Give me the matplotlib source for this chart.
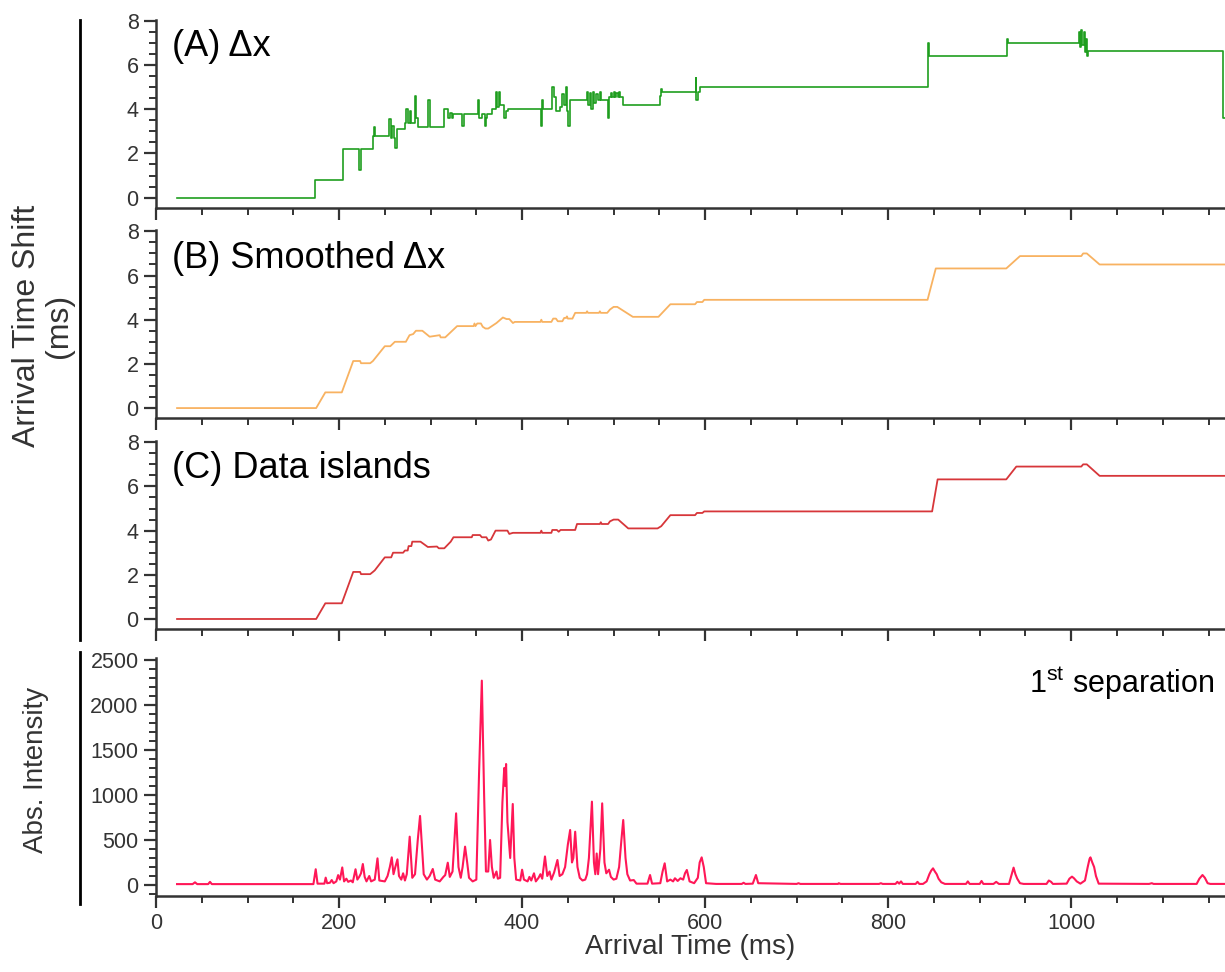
import matplotlib
matplotlib.use('Agg')
import matplotlib.pyplot as plt
from matplotlib.lines import Line2D
from matplotlib.ticker import MultipleLocator

plt.rcParams['font.family'] = ['Liberation Sans', 'DejaVu Sans']
plt.rcParams['mathtext.fontset'] = 'custom'
plt.rcParams['mathtext.rm'] = 'Liberation Sans'

GREEN = '#1f9e1f'
ORANGE = '#f8b261'
RED = '#d7363a'
PINK = '#ff1757'
AXC = '#333333'

# (A) raw shift, stepwise
dx_t = [23, 174, 204, 222, 224, 237, 238, 239.5, 255, 256.5, 258, 260, 261.5, 263,
        272, 273, 275, 278, 279, 283, 284.5, 286, 297.5, 299, 315, 319, 321, 323,
        325, 334.5, 336, 351.5, 353, 356, 359, 360.5, 362, 367, 371, 372.5, 374.5,
        376, 380, 382, 385, 421, 422, 423, 433, 434.5, 437, 441, 444, 445.5, 448,
        449, 450.5, 452, 471, 472, 474, 475.5, 478, 479, 481, 482.5, 485, 486,
        493.5, 495, 497, 498, 500, 501, 503, 504.5, 506, 507, 510.5, 551, 552, 553,
        589.5, 590.5, 592, 594, 843.5, 844.5, 929.5, 930.5, 1009, 1010, 1011, 1012,
        1013.5, 1014.5, 1016, 1017, 1018.5, 1166, 1168]
dx_v = [0.0, 0.8, 2.2, 1.25, 2.2, 2.8, 3.2, 2.8, 3.55, 2.7, 3.25, 2.7, 2.25, 3.1,
        3.4, 4.0, 3.4, 3.9, 3.4, 4.6, 3.6, 3.2, 4.4, 3.2, 4.0, 3.6, 3.85, 3.6,
        3.8, 3.25, 3.8, 4.4, 3.6, 3.8, 3.25, 3.6, 3.8, 4.0, 4.8, 4.1, 4.8,
        4.2, 3.6, 3.9, 4.0, 3.25, 4.4, 4.0, 5.0, 4.55, 3.9, 4.1, 4.7, 4.2, 5.0,
        3.9, 3.25, 4.4, 4.8, 4.2, 4.75, 4.0, 4.8, 4.3, 4.7, 4.4, 4.8, 4.4,
        3.6, 4.55, 4.75, 4.55, 4.8, 4.55, 4.75, 4.55, 4.8, 4.55, 4.2, 4.6, 4.9, 4.8,
        5.4, 4.4, 4.8, 5.0, 7.0, 6.42, 7.2, 7.0, 7.5, 6.8, 7.6, 6.9,
        7.5, 6.6, 7.2, 6.42, 6.62, 3.6, 3.6]

# (B) smoothed shift
sm_t = [23, 175, 185, 203, 215.5, 223, 224, 234, 237, 250, 256, 261, 273, 277, 281,
        284, 291, 299, 310, 311, 316, 329, 347, 348, 349, 351, 355, 357, 360, 363,
        372, 379, 383, 386, 390, 392, 420, 421, 422, 432, 434, 437, 439, 444, 446,
        448, 449, 450, 455, 458, 470, 471, 472, 484, 485, 486, 493, 496, 500, 504,
        521, 549, 562, 589, 591, 597, 599, 843, 852, 929, 944, 1011, 1013, 1017,
        1031, 1168]
sm_v = [0, 0, 0.71, 0.71, 2.13, 2.13, 2.03, 2.03, 2.13, 2.8, 2.8, 3.0, 3.0, 3.3, 3.35,
        3.5, 3.5, 3.23, 3.3, 3.2, 3.2, 3.71, 3.71, 3.83, 3.71, 3.83, 3.83, 3.68, 3.6, 3.6,
        3.85, 4.1, 4.03, 4.03, 3.85, 3.9, 3.9, 4.0, 3.9, 3.9, 4.05, 4.05, 3.93, 3.93, 4.08,
        4.08, 4.15, 4.05, 4.05, 4.31, 4.31, 4.38, 4.31, 4.31, 4.38, 4.31, 4.31, 4.46, 4.58, 4.58,
        4.13, 4.13, 4.7, 4.7, 4.8, 4.8, 4.9, 4.9, 6.32, 6.32, 6.88, 6.88, 7.0, 7.0,
        6.5, 6.5]

# (C) data islands
isl_t = [23, 175, 185, 203, 215.5, 223, 224, 234, 237, 239, 250, 257, 259, 270, 272,
         275, 276, 279, 280, 289, 297, 307, 309, 315, 322, 325, 345, 346, 354, 356,
         361, 363, 366, 371, 384, 386, 390, 420, 421, 422, 432, 433, 438, 440, 442,
         458, 460, 485, 486, 487, 494, 496, 500, 505, 516, 548, 552, 562, 589, 591,
         597, 599, 848, 854, 929, 940, 1011, 1013, 1017, 1031, 1168]
isl_v = [0, 0, 0.71, 0.71, 2.13, 2.13, 2.03, 2.03, 2.13, 2.2, 2.79, 2.79, 3.0, 3.0, 3.1,
         3.1, 3.3, 3.3, 3.5, 3.5, 3.26, 3.28, 3.2, 3.2, 3.5, 3.7, 3.7, 3.8, 3.8, 3.7,
         3.7, 3.55, 3.6, 4.0, 4.0, 3.85, 3.9, 3.9, 4.0, 3.9, 3.9, 4.03, 4.03, 3.95, 4.03,
         4.03, 4.3, 4.3, 4.38, 4.3, 4.3, 4.42, 4.5, 4.5, 4.1, 4.1, 4.2, 4.7, 4.7, 4.8,
         4.8, 4.87, 4.87, 6.32, 6.32, 6.9, 6.9, 7.0, 7.0, 6.48, 6.48]

# 1st separation intensity trace
int_t = [23, 40, 42.6, 45, 57, 59, 61, 172, 174.5, 176.5, 184, 185.4, 187, 190, 192,
         194, 197, 199, 201, 203.5, 205.5, 208, 210, 213, 215, 218, 220, 222, 224,
         226, 228, 230, 233, 235, 239, 242, 244, 247, 250, 253, 255.5, 257.6, 259.5,
         261.5, 263.8, 265.5, 268, 270, 272, 274, 277.2, 280, 283, 286, 288.5, 290.5,
         292.5, 296, 299, 302.4, 305, 310, 314, 316, 318.8, 321, 324, 327.9, 330.5,
         333, 335, 337.7, 340, 342, 346, 350, 353, 356, 358.5, 360.5, 363, 365, 367,
         369, 372, 373.5, 376, 378.5, 380.5, 381.5, 382.5, 384, 385.5, 387, 389.8,
         391.5, 393.5, 398, 400, 402, 406, 408, 410, 413, 415, 418, 420, 422, 425,
         427.5, 430, 432, 435, 438.6, 441, 444, 447, 450, 452.5, 454.5, 456, 458,
         460.5, 463, 466, 469, 471, 473, 476.3, 478.5, 480, 481.5, 483, 485.5, 487.5,
         490, 492, 495, 497, 500, 503, 506, 508.5, 510.5, 513, 515, 518, 522, 525,
         537, 539.8, 542, 551, 553.5, 555.8, 558.5, 562, 565, 567, 570, 573, 576,
         578, 580, 583, 588, 592, 594, 596.2, 598.5, 601, 612, 640, 642, 644, 652,
         655.5, 658, 700, 702, 704, 745, 746, 748, 790, 792, 794, 808, 810, 812, 814,
         816, 830, 832, 834, 838, 842, 845, 847, 849, 851, 853, 855, 858, 862, 885,
         887, 889, 900, 902, 904, 915, 918, 921, 932, 935, 937, 939, 941, 944, 948,
         973, 975.5, 978, 980, 995, 998, 1000.8, 1003, 1006, 1010, 1015, 1018, 1020,
         1021, 1023, 1025, 1027, 1030, 1085, 1088, 1090, 1137, 1140, 1143.4, 1146,
         1149, 1152, 1168]
int_v = [10, 10, 30, 10, 10, 35, 10, 10, 175, 15, 15, 82, 20, 25, 55,
         20, 40, 110, 60, 195, 40, 70, 35, 50, 30, 175, 60, 90, 130,
         233, 90, 40, 100, 40, 60, 296, 50, 45, 40, 100, 200, 307, 120,
         200, 285, 100, 60, 130, 50, 120, 537, 80, 120, 500, 767, 450,
         120, 60, 100, 178, 60, 40, 90, 110, 248, 90, 150, 796, 200,
         80, 200, 426, 250, 80, 40, 60, 1250, 2270, 1000, 150, 150, 500, 200,
         80, 150, 70, 80, 920, 1300, 1100, 1344, 700, 500, 300, 900,
         300, 60, 50, 170, 60, 40, 90, 50, 130, 40, 80, 120, 70, 317,
         100, 150, 60, 140, 278, 100, 120, 200, 450, 611, 250, 300, 592,
         200, 80, 50, 60, 120, 300, 926, 250, 120, 350, 120, 400, 907,
         250, 130, 170, 90, 60, 70, 200, 500, 722, 300, 120, 50, 55, 15,
         15, 111, 15, 20, 150, 241, 40, 60, 40, 75, 45, 75, 60,
         130, 167, 40, 20, 80, 250, 307, 200, 20, 12, 12, 25, 12, 15,
         111, 20, 12, 20, 12, 12, 20, 12, 12, 20, 12, 12, 35, 15, 40,
         12, 12, 35, 12, 12, 40, 120, 160, 185, 150, 120, 70, 30, 12, 12,
         40, 12, 12, 45, 12, 12, 35, 12, 12, 120, 193, 120, 70, 20, 12,
         12, 50, 35, 12, 15, 70, 93, 75, 40, 15, 50, 200, 290,
         307, 250, 200, 100, 15, 12, 20, 12, 12, 70, 111, 80,
         20, 12, 12]

fig = plt.figure(figsize=(12.25, 9.72), dpi=100, facecolor='white')

left = 156 / 1225
width = 1 - left
ax_a = fig.add_axes([left, 0.786, width, 0.1934])
ax_b = fig.add_axes([left, 0.5695, width, 0.1934])
ax_c = fig.add_axes([left, 0.3525, width, 0.1934])
ax_d = fig.add_axes([left, 0.0782, width, 0.2449])

ax_a.plot(dx_t, dx_v, drawstyle='steps-post', color=GREEN, lw=1.2)
ax_b.plot(sm_t, sm_v, color=ORANGE, lw=1.3)
ax_c.plot(isl_t, isl_v, color=RED, lw=1.3)
ax_d.plot(int_t, int_v, color=PINK, lw=1.5)

for ax in (ax_a, ax_b, ax_c, ax_d):
    ax.set_xlim(0, 1168)
    for side in ('top', 'right'):
        ax.spines[side].set_visible(False)
    for side in ('left', 'bottom'):
        ax.spines[side].set_color(AXC)
        ax.spines[side].set_linewidth(1.8)
    ax.xaxis.set_major_locator(MultipleLocator(200))
    ax.xaxis.set_minor_locator(MultipleLocator(50))
    ax.tick_params(which='major', direction='out', length=8.5, width=1.6,
                   color=AXC, labelcolor=AXC, labelsize=15.5, pad=4)
    ax.tick_params(which='minor', direction='out', length=5, width=1.4, color=AXC)

for ax in (ax_a, ax_b, ax_c):
    ax.set_ylim(-0.47, 8.04)
    ax.yaxis.set_major_locator(MultipleLocator(2))
    ax.yaxis.set_minor_locator(MultipleLocator(0.5))
    ax.tick_params(axis='x', labelbottom=False)

ax_d.set_ylim(-122, 2522)
ax_d.yaxis.set_major_locator(MultipleLocator(500))
ax_d.yaxis.set_minor_locator(MultipleLocator(100))
ax_d.set_xlabel('Arrival Time (ms)', fontsize=20, color=AXC, labelpad=0)

ax_a.text(0.015, 0.86, '(A) Δx', transform=ax_a.transAxes, fontsize=26,
          ha='left', va='center')
ax_b.text(0.015, 0.85, '(B) Smoothed Δx', transform=ax_b.transAxes, fontsize=26,
          ha='left', va='center')
ax_c.text(0.015, 0.857, '(C) Data islands', transform=ax_c.transAxes, fontsize=26,
          ha='left', va='center')
ax_d.text(0.99, 0.895, r'1$^{\rm st}$ separation', transform=ax_d.transAxes,
          fontsize=22, ha='right', va='center')

# side labels and bracket bars
fig.text(0.035, 0.665, 'Arrival Time Shift\n(ms)', rotation=90, fontsize=23,
         color=AXC, ha='center', va='center', multialignment='center',
         linespacing=1.1)
fig.text(0.029, 0.208, 'Abs. Intensity', rotation=90, fontsize=20,
         color=AXC, ha='center', va='center')
bx = 80 / 1225
fig.add_artist(Line2D([bx, bx], [1 - 20 / 972, 1 - 640 / 972], color='black', lw=2))
fig.add_artist(Line2D([bx, bx], [1 - 652 / 972, 1 - 904 / 972], color='black', lw=2))

fig.savefig('out.png', dpi=100, facecolor='white')
